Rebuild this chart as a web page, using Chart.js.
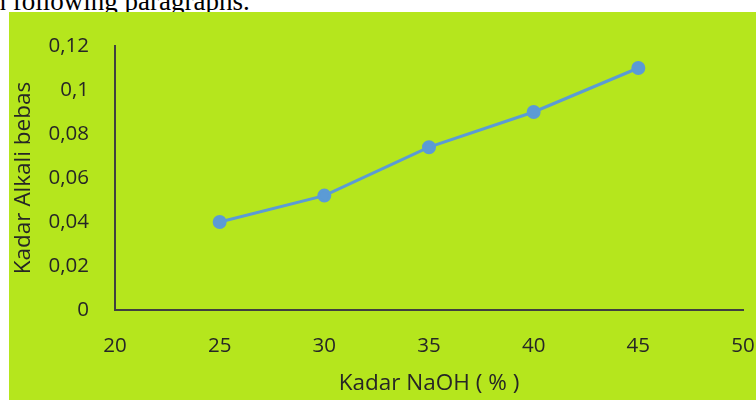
<!DOCTYPE html>
<html>
<head>
<meta charset="utf-8">
<script src="https://cdn.jsdelivr.net/npm/chart.js@4"></script>
<style>
  html, body { margin: 0; padding: 0; background: #fff; width: 756px; height: 400px; overflow: hidden; }
  #caption { position: absolute; left: -15px; top: -12px; font: 27px/27px "Liberation Serif", serif; color: #000; white-space: nowrap; }
  #wrap { position: absolute; left: 9px; top: 12px; width: 747px; height: 388px; background: #b5e61d; }
</style>
</head>
<body>
<div id="caption">in following paragraphs.</div>
<div id="wrap"><canvas id="chart" width="747" height="388"></canvas></div>
<script>
const naoh = [25, 30, 35, 40, 45];
const alkali = [0.04, 0.052, 0.074, 0.09, 0.11];
const xTicks = [20, 25, 30, 35, 40, 45, 50];
const yTicks = [0, 0.02, 0.04, 0.06, 0.08, 0.1, 0.12];

const ink = '#404040';
const textCol = '#262626';
const font = { family: "'Open Sans', 'Noto Sans', sans-serif", size: 20.5 };
const titleFont = { family: "'Open Sans', 'Noto Sans', sans-serif", size: 22.5 };

function comma(v) {
  return String(+v.toFixed(2)).replace('.', ',');
}

new Chart(document.getElementById('chart'), {
  type: 'scatter',
  data: {
    datasets: [{
      data: naoh.map((x, i) => ({ x, y: alkali[i] })),
      showLine: true,
      borderColor: '#5b9bd5',
      backgroundColor: '#5b9bd5',
      borderWidth: 3,
      pointRadius: 5.5,
      pointHoverRadius: 5.5
    }]
  },
  options: {
    responsive: false,
    animation: false,
    layout: { padding: { top: 34, right: 13, left: 0, bottom: 0 } },
    plugins: { legend: { display: false }, tooltip: { enabled: false } },
    scales: {
      x: {
        type: 'linear',
        min: 20, max: 50,
        afterBuildTicks: s => { s.ticks = xTicks.map(v => ({ value: v })); },
        afterFit: s => { s.height = 90; s.paddingRight = 12; s.paddingLeft = 12; },
        grid: { display: false, drawTicks: false },
        border: { display: true, color: ink, width: 2 },
        ticks: { color: textCol, font, padding: 24 },
        title: { display: true, text: 'Kadar NaOH ( % )', color: textCol, font: titleFont, padding: { top: 0, bottom: 3 } }
      },
      y: {
        min: 0, max: 0.12,
        afterBuildTicks: s => { s.ticks = yTicks.map(v => ({ value: v })); },
        afterFit: s => { s.width = 106; s.paddingTop = 12; s.paddingBottom = 12; },
        grid: { display: false, drawTicks: false },
        border: { display: true, color: ink, width: 2 },
        ticks: { color: textCol, font, padding: 26, callback: v => comma(v) },
        title: { display: true, text: 'Kadar Alkali bebas', color: textCol, font: titleFont, padding: { top: 1, bottom: 0 } }
      }
    }
  }
});
</script>
</body>
</html>
